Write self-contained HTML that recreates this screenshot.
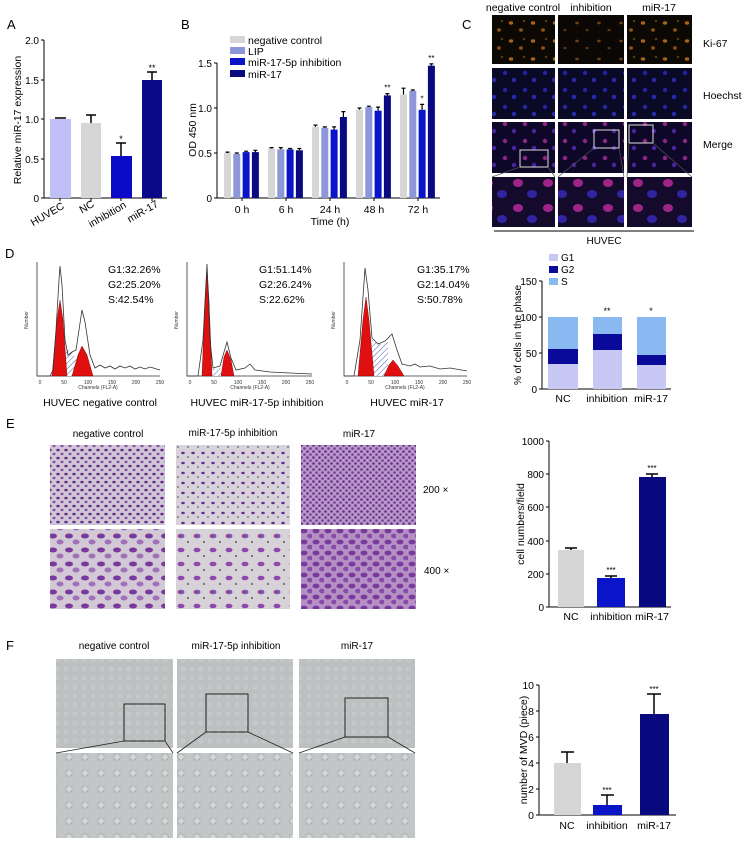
<!DOCTYPE html>
<html><head><meta charset="utf-8"><style>
html,body{margin:0;padding:0;background:#fff}
svg{display:block;font-family:"Liberation Sans",Arial,sans-serif}
</style></head><body>
<svg width="748" height="843" viewBox="0 0 748 843" xmlns="http://www.w3.org/2000/svg">
<defs>
<pattern id="ki" width="22" height="18" patternUnits="userSpaceOnUse"><rect width="22" height="18" fill="#0c0804"/><ellipse cx="5" cy="5" rx="2.2" ry="1.7" fill="#a8641a"/><ellipse cx="15" cy="12" rx="2" ry="1.7" fill="#8a5014"/><ellipse cx="18" cy="3" rx="1.3" ry="1.1" fill="#5a3a10"/></pattern>
<pattern id="ki2" width="22" height="18" patternUnits="userSpaceOnUse"><rect width="22" height="18" fill="#0a0704"/><ellipse cx="5" cy="5" rx="1.8" ry="1.4" fill="#6a4010"/><ellipse cx="15" cy="12" rx="1.6" ry="1.3" fill="#5a3610"/></pattern>
<pattern id="ho" width="20" height="17" patternUnits="userSpaceOnUse"><rect width="20" height="17" fill="#0a0a26"/><circle cx="5" cy="5" r="2.2" fill="#2424a0"/><circle cx="14" cy="12" r="2.2" fill="#2a2ab0"/></pattern>
<pattern id="me" width="20" height="17" patternUnits="userSpaceOnUse"><rect width="20" height="17" fill="#0e0828"/><circle cx="5" cy="5" r="2.2" fill="#902484"/><circle cx="14" cy="12" r="2.2" fill="#4a24a0"/></pattern>
<pattern id="mz" width="30" height="25" patternUnits="userSpaceOnUse"><rect width="30" height="25" fill="#140a2c"/><ellipse cx="8" cy="8" rx="5" ry="4" fill="#a02488"/><ellipse cx="22" cy="19" rx="5" ry="4" fill="#3024a0"/></pattern>
<pattern id="e1" width="8" height="8" patternUnits="userSpaceOnUse"><rect width="8" height="8" fill="#cfc6d6"/><ellipse cx="2" cy="2" rx="1.8" ry="1.3" fill="#6a2c8c"/><ellipse cx="6" cy="6" rx="1.6" ry="1.2" fill="#8a50a8"/></pattern>
<pattern id="e2" width="6" height="6" patternUnits="userSpaceOnUse"><rect width="6" height="6" fill="#b89ac8"/><circle cx="1.5" cy="1.5" r="1.3" fill="#6a2c8c"/><circle cx="4.5" cy="4.5" r="1.3" fill="#7a3a9a"/></pattern>
<pattern id="e3" width="10" height="10" patternUnits="userSpaceOnUse"><rect width="10" height="10" fill="#d8d2da"/><ellipse cx="3" cy="3" rx="1.8" ry="1.2" fill="#6a2c8c"/><circle cx="8" cy="7" r="0.8" fill="#444"/></pattern>
<pattern id="e4" width="16" height="14" patternUnits="userSpaceOnUse"><rect width="16" height="14" fill="#d2c8d6"/><ellipse cx="5" cy="4" rx="4" ry="2.5" fill="#7a3a9c"/><ellipse cx="12" cy="10" rx="3.5" ry="2.5" fill="#a070b8"/></pattern>
<pattern id="e5" width="16" height="14" patternUnits="userSpaceOnUse"><rect width="16" height="14" fill="#d6d2d8"/><ellipse cx="5" cy="4" rx="3.5" ry="2.3" fill="#8a4aa8"/><circle cx="12" cy="10" r="0.9" fill="#333"/></pattern>
<pattern id="e6" width="12" height="11" patternUnits="userSpaceOnUse"><rect width="12" height="11" fill="#b490c4"/><ellipse cx="4" cy="3" rx="3.5" ry="2.4" fill="#7a3a9c"/><ellipse cx="10" cy="8" rx="3" ry="2.3" fill="#8a4aa8"/></pattern>
<pattern id="f1" width="9" height="9" patternUnits="userSpaceOnUse"><rect width="9" height="9" fill="#bcc0c0"/><circle cx="3" cy="3" r="1.6" fill="none" stroke="#d4d8d8" stroke-width="0.6"/></pattern>
<pattern id="f2" width="16" height="16" patternUnits="userSpaceOnUse"><rect width="16" height="16" fill="#c2c6c6"/><circle cx="5" cy="5" r="3.2" fill="#d4d8d8" stroke="#9aa0a0" stroke-width="0.6"/></pattern>
<pattern id="hat" width="4" height="4" patternUnits="userSpaceOnUse" patternTransform="rotate(45)"><rect width="4" height="4" fill="#fff"/><line x1="0" y1="0" x2="0" y2="4" stroke="#4a5ab0" stroke-width="1"/></pattern>
</defs>

<g font-size="13" fill="#000">
<text x="7" y="29">A</text><text x="181" y="29">B</text><text x="462" y="29">C</text>
<text x="5" y="258">D</text><text x="6" y="428">E</text><text x="6" y="650">F</text>
</g>

<!-- Panel A -->
<g font-size="10">
<line x1="44" y1="40" x2="44" y2="198" stroke="#000"/>
<line x1="44" y1="198" x2="167" y2="198" stroke="#000"/>
<g stroke="#000"><line x1="41" y1="40" x2="44" y2="40"/><line x1="41" y1="80" x2="44" y2="80"/><line x1="41" y1="119" x2="44" y2="119"/><line x1="41" y1="159" x2="44" y2="159"/><line x1="41" y1="198" x2="44" y2="198"/>
<line x1="60" y1="198" x2="60" y2="201"/><line x1="91" y1="198" x2="91" y2="201"/><line x1="121" y1="198" x2="121" y2="201"/><line x1="152" y1="198" x2="152" y2="201"/></g>
<g text-anchor="end"><text x="39" y="44">2.0</text><text x="39" y="84">1.5</text><text x="39" y="123">1.0</text><text x="39" y="163">0.5</text><text x="39" y="202">0</text></g>
<text transform="translate(21,120) rotate(-90)" text-anchor="middle" font-size="10.5">Relative miR-17 expression</text>
<rect x="50" y="119" width="21" height="79" fill="#c0c0f6"/><line x1="55" y1="118" x2="66" y2="118" stroke="#000" stroke-width="1.5"/>
<rect x="81" y="123" width="20" height="75" fill="#d6d6d6"/><path d="M91,123V115M86,115H96" stroke="#000" stroke-width="1.5"/>
<rect x="111" y="156" width="21" height="42" fill="#0a0ac8"/><path d="M121,156V143M116,143H126" stroke="#000" stroke-width="1.5"/><text x="121" y="142" text-anchor="middle" font-size="9">*</text>
<rect x="142" y="80" width="20" height="118" fill="#0a0a88"/><path d="M152,80V72M147,72H157" stroke="#000" stroke-width="1.5"/><text x="152" y="71" text-anchor="middle" font-size="9">**</text>
<g text-anchor="end" font-size="10.5"><text transform="translate(65,208) rotate(-30)">HUVEC</text><text transform="translate(95,206) rotate(-30)">NC</text><text transform="translate(127,207) rotate(-30)">inhibition</text><text transform="translate(159,206) rotate(-30)">miR-17</text></g>
</g>

<!-- Panel B -->
<g font-size="10">
<line x1="217" y1="63" x2="217" y2="198" stroke="#000"/><line x1="217" y1="198" x2="440" y2="198" stroke="#000"/>
<g stroke="#000"><line x1="214" y1="63" x2="217" y2="63"/><line x1="214" y1="108" x2="217" y2="108"/><line x1="214" y1="153" x2="217" y2="153"/><line x1="214" y1="198" x2="217" y2="198"/>
<line x1="242" y1="198" x2="242" y2="201"/><line x1="286" y1="198" x2="286" y2="201"/><line x1="330" y1="198" x2="330" y2="201"/><line x1="374" y1="198" x2="374" y2="201"/><line x1="418" y1="198" x2="418" y2="201"/></g>
<g text-anchor="end"><text x="212" y="67">1.5</text><text x="212" y="112">1.0</text><text x="212" y="157">0.5</text><text x="212" y="202">0</text></g>
<text transform="translate(196,130) rotate(-90)" text-anchor="middle" font-size="10.5">OD 450 nm</text>
<g text-anchor="middle" font-size="10.5"><text x="242" y="213">0 h</text><text x="286" y="213">6 h</text><text x="330" y="213">24 h</text><text x="374" y="213">48 h</text><text x="418" y="213">72 h</text><text x="330" y="225">Time (h)</text></g>
<rect x="230" y="36" width="15" height="7" fill="#d6d6d6"/><rect x="230" y="47" width="15" height="7" fill="#8c96d8"/><rect x="230" y="58" width="15" height="7" fill="#0a14c8"/><rect x="230" y="70" width="15" height="7" fill="#0a0a80"/>
<g font-size="10.5"><text x="248" y="44">negative control</text><text x="248" y="55">LIP</text><text x="248" y="66">miR-17-5p inhibition</text><text x="248" y="78">miR-17</text></g>
<g id="bbars"></g>
</g>

<!-- Panel C -->
<g font-size="10.5" text-anchor="middle"><text x="523" y="11">negative control</text><text x="591" y="11">inhibition</text><text x="659" y="11">miR-17</text></g>
<rect x="492" y="15" width="63" height="49" fill="url(#ki)"/><rect x="558" y="15" width="66" height="49" fill="url(#ki2)"/><rect x="627" y="15" width="65" height="49" fill="url(#ki)"/>
<rect x="492" y="68" width="63" height="51" fill="url(#ho)"/><rect x="558" y="68" width="66" height="51" fill="url(#ho)"/><rect x="627" y="68" width="65" height="51" fill="url(#ho)"/>
<rect x="492" y="122" width="63" height="51" fill="url(#me)"/><rect x="558" y="122" width="66" height="51" fill="url(#me)"/><rect x="627" y="122" width="65" height="51" fill="url(#me)"/>
<rect x="492" y="177" width="63" height="50" fill="url(#mz)"/><rect x="558" y="177" width="66" height="50" fill="url(#mz)"/><rect x="627" y="177" width="65" height="50" fill="url(#mz)"/>
<g fill="none" stroke="#ddd" stroke-width="1"><rect x="520" y="150" width="28" height="17"/><rect x="594" y="130" width="25" height="18"/><rect x="629" y="125" width="24" height="18"/></g>
<g stroke="#555" stroke-width="0.7"><line x1="492" y1="177" x2="520" y2="167"/><line x1="555" y1="177" x2="548" y2="167"/><line x1="558" y1="177" x2="594" y2="148"/><line x1="624" y1="177" x2="619" y2="148"/><line x1="627" y1="177" x2="629" y2="143"/><line x1="692" y1="177" x2="653" y2="143"/></g>
<g font-size="10.5"><text x="703" y="47">Ki-67</text><text x="703" y="99">Hoechst</text><text x="703" y="148">Merge</text></g>
<line x1="494" y1="231" x2="694" y2="231" stroke="#333" stroke-width="1.2"/>
<text x="604" y="244" font-size="10" text-anchor="middle">HUVEC</text>

<!-- Panel D histograms -->
<g stroke="#333" stroke-width="0.8" fill="none">
<path d="M37,262V376H160"/><path d="M187,262V376H312"/><path d="M344,262V376H467"/>
</g>
<path d="M62,376 L65,348 L72,352 L78,362 L76,376 Z" fill="url(#hat)"/>
<path d="M212,376 L213,369 L222,368 L221,376 Z" fill="url(#hat)"/>
<path d="M372,376 L372,340 L380,344 L388,342 L388,376 Z" fill="url(#hat)"/>
<g fill="#e01010" stroke="#600" stroke-width="0.4">
<path d="M52,376 L57,320 L60,300 L63,320 L67,376 Z"/><path d="M72,376 L78,355 L82,346 L87,355 L93,376 Z"/>
<path d="M202,376 L205,300 L207,268 L209,300 L212,376 Z"/><path d="M221,376 L224,357 L227,350 L231,360 L234,376 Z"/>
<path d="M358,376 L363,320 L366,297 L369,320 L374,376 Z"/><path d="M384,376 L389,365 L393,360 L398,366 L404,376 Z"/>
</g>
<g fill="none" stroke="#333" stroke-width="0.8">
<path d="M37,376 L50,376 L53,370 L56,330 L59,280 L60,266 L62,285 L65,340 L68,355 L72,352 L76,350 L79,330 L82,310 L85,322 L90,355 L95,368 L100,365 L105,368 L110,366 L115,369 L120,366 L125,368 L130,366 L135,369 L140,367 L145,369 L150,367 L160,370"/>
<path d="M187,376 L198,376 L203,340 L207,264 L210,340 L213,368 L220,366 L224,352 L227,342 L231,358 L236,370 L245,368 L250,364 L255,370 L270,372 L290,373 L312,374"/>
<path d="M344,376 L354,376 L360,340 L365,268 L368,290 L372,338 L378,344 L385,341 L392,334 L397,350 L402,364 L410,366 L415,364 L420,367 L430,366 L440,369 L450,368 L467,371"/>
</g>
<g font-size="5" text-anchor="middle" fill="#333"><text x="40" y="384">0</text><text x="64" y="384">50</text><text x="88" y="384">100</text><text x="112" y="384">150</text><text x="136" y="384">200</text><text x="160" y="384">250</text><text x="98" y="389">Channels (FL2-A)</text>
<text x="190" y="384">0</text><text x="214" y="384">50</text><text x="238" y="384">100</text><text x="262" y="384">150</text><text x="286" y="384">200</text><text x="310" y="384">250</text><text x="250" y="389">Channels (FL2-A)</text>
<text x="347" y="384">0</text><text x="371" y="384">50</text><text x="395" y="384">100</text><text x="419" y="384">150</text><text x="443" y="384">200</text><text x="467" y="384">250</text><text x="405" y="389">Channels (FL2-A)</text>
<text transform="translate(28,320) rotate(-90)">Number</text><text transform="translate(178,320) rotate(-90)">Number</text><text transform="translate(335,320) rotate(-90)">Number</text></g>
<g font-size="10.5"><text x="108" y="273">G1:32.26%</text><text x="108" y="288">G2:25.20%</text><text x="108" y="303">S:42.54%</text>
<text x="259" y="273">G1:51.14%</text><text x="259" y="288">G2:26.24%</text><text x="259" y="303">S:22.62%</text>
<text x="417" y="273">G1:35.17%</text><text x="417" y="288">G2:14.04%</text><text x="417" y="303">S:50.78%</text></g>
<g font-size="10.5" text-anchor="middle"><text x="100" y="406">HUVEC negative control</text><text x="257" y="406">HUVEC miR-17-5p inhibition</text><text x="407" y="406">HUVEC miR-17</text></g>

<!-- Panel D bar chart -->
<g font-size="10">
<rect x="549" y="254" width="9" height="7" fill="#c8c8f5"/><rect x="549" y="266" width="9" height="7" fill="#0a0a9a"/><rect x="549" y="278" width="9" height="7" fill="#8ab8f0"/>
<text x="561" y="261">G1</text><text x="561" y="273">G2</text><text x="561" y="285">S</text>
<line x1="542" y1="281" x2="542" y2="389" stroke="#000"/><line x1="542" y1="389" x2="671" y2="389" stroke="#000"/>
<g stroke="#000"><line x1="539" y1="281" x2="542" y2="281"/><line x1="539" y1="317" x2="542" y2="317"/><line x1="539" y1="353" x2="542" y2="353"/><line x1="539" y1="389" x2="542" y2="389"/></g>
<g text-anchor="end"><text x="537" y="285">150</text><text x="537" y="321">100</text><text x="537" y="357">50</text><text x="537" y="393">0</text></g>
<text transform="translate(521,335) rotate(-90)" text-anchor="middle" font-size="10">% of cells in the phase</text>
<rect x="548" y="317" width="30" height="72" fill="#8ab8f0"/><rect x="548" y="349" width="30" height="15" fill="#0a0a9a"/><rect x="548" y="364" width="30" height="25" fill="#c8c8f5"/>
<rect x="593" y="317" width="29" height="72" fill="#8ab8f0"/><rect x="593" y="334" width="29" height="16" fill="#0a0a9a"/><rect x="593" y="350" width="29" height="39" fill="#c8c8f5"/>
<rect x="637" y="317" width="29" height="72" fill="#8ab8f0"/><rect x="637" y="355" width="29" height="10" fill="#0a0a9a"/><rect x="637" y="365" width="29" height="24" fill="#c8c8f5"/>
<text x="607" y="314" text-anchor="middle" font-size="9">**</text><text x="651" y="314" text-anchor="middle" font-size="9">*</text>
<g text-anchor="middle" font-size="10.5"><text x="563" y="402">NC</text><text x="607" y="402">inhibition</text><text x="651" y="402">miR-17</text></g>
</g>

<!-- Panel E -->
<g font-size="10" text-anchor="middle"><text x="108" y="437">negative control</text><text x="233" y="436">miR-17-5p inhibition</text><text x="359" y="437">miR-17</text></g>
<rect x="50" y="445" width="115" height="80" fill="url(#e1)"/><rect x="176" y="445" width="114" height="80" fill="url(#e3)"/><rect x="301" y="445" width="115" height="80" fill="url(#e2)"/>
<rect x="50" y="529" width="115" height="80" fill="url(#e4)"/><rect x="176" y="529" width="114" height="80" fill="url(#e5)"/><rect x="301" y="529" width="115" height="80" fill="url(#e6)"/>
<g font-size="10"><text x="423" y="493">200 ×</text><text x="424" y="574">400 ×</text></g>
<g font-size="10">
<line x1="549" y1="441" x2="549" y2="607" stroke="#000"/><line x1="549" y1="607" x2="671" y2="607" stroke="#000"/>
<g stroke="#000"><line x1="546" y1="441" x2="549" y2="441"/><line x1="546" y1="474" x2="549" y2="474"/><line x1="546" y1="507" x2="549" y2="507"/><line x1="546" y1="541" x2="549" y2="541"/><line x1="546" y1="574" x2="549" y2="574"/><line x1="546" y1="607" x2="549" y2="607"/></g>
<g text-anchor="end"><text x="544" y="445">1000</text><text x="544" y="478">800</text><text x="544" y="511">600</text><text x="544" y="545">400</text><text x="544" y="578">200</text><text x="544" y="611">0</text></g>
<text transform="translate(524,524) rotate(-90)" text-anchor="middle" font-size="10.5">cell numbers/field</text>
<rect x="558" y="550" width="26" height="57" fill="#d6d6d6"/><path d="M571,550V548M565,548H577" stroke="#000" stroke-width="1.5"/>
<rect x="597" y="578" width="28" height="29" fill="#0a14c8"/><path d="M611,578V576M605,576H617" stroke="#000" stroke-width="1.5"/><text x="611" y="573" text-anchor="middle" font-size="8">***</text>
<rect x="639" y="477" width="27" height="130" fill="#0a0a80"/><path d="M652,477V474M646,474H658" stroke="#000" stroke-width="1.5"/><text x="652" y="471" text-anchor="middle" font-size="8">***</text>
<g text-anchor="middle" font-size="10.5"><text x="571" y="620">NC</text><text x="611" y="620">inhibition</text><text x="652" y="620">miR-17</text></g>
</g>

<!-- Panel F -->
<g font-size="10" text-anchor="middle"><text x="114" y="649">negative control</text><text x="236" y="649">miR-17-5p inhibition</text><text x="357" y="649">miR-17</text></g>
<rect x="56" y="659" width="117" height="89" fill="url(#f1)"/><rect x="177" y="659" width="116" height="89" fill="url(#f1)"/><rect x="299" y="659" width="116" height="89" fill="url(#f1)"/>
<rect x="56" y="753" width="117" height="85" fill="url(#f2)"/><rect x="177" y="753" width="116" height="85" fill="url(#f2)"/><rect x="299" y="753" width="116" height="85" fill="url(#f2)"/>
<g fill="none" stroke="#222" stroke-width="1"><rect x="124" y="704" width="41" height="37"/><rect x="206" y="694" width="42" height="38"/><rect x="345" y="698" width="43" height="39"/></g>
<g stroke="#222" stroke-width="0.8"><line x1="56" y1="753" x2="124" y2="741"/><line x1="173" y1="753" x2="165" y2="741"/><line x1="177" y1="753" x2="206" y2="732"/><line x1="293" y1="753" x2="248" y2="732"/><line x1="299" y1="753" x2="345" y2="737"/><line x1="415" y1="753" x2="388" y2="737"/></g>
<g font-size="10.5">
<line x1="539" y1="685" x2="539" y2="815" stroke="#000"/><line x1="539" y1="815" x2="676" y2="815" stroke="#000"/>
<g stroke="#000"><line x1="536" y1="685" x2="539" y2="685"/><line x1="536" y1="711" x2="539" y2="711"/><line x1="536" y1="737" x2="539" y2="737"/><line x1="536" y1="763" x2="539" y2="763"/><line x1="536" y1="789" x2="539" y2="789"/><line x1="536" y1="815" x2="539" y2="815"/></g>
<g text-anchor="end"><text x="534" y="689">10</text><text x="534" y="715">8</text><text x="534" y="741">6</text><text x="534" y="767">4</text><text x="534" y="793">2</text><text x="534" y="819">0</text></g>
<text transform="translate(527,750) rotate(-90)" text-anchor="middle">number of MVD (piece)</text>
<rect x="554" y="763" width="27" height="52" fill="#d6d6d6"/><path d="M567,763V752M561,752H574" stroke="#000" stroke-width="1.5"/>
<rect x="593" y="805" width="29" height="10" fill="#0a14c8"/><path d="M607,805V795M601,795H614" stroke="#000" stroke-width="1.5"/><text x="607" y="793" text-anchor="middle" font-size="8">***</text>
<rect x="640" y="714" width="29" height="101" fill="#0a0a80"/><path d="M654,714V694M647,694H661" stroke="#000" stroke-width="1.5"/><text x="654" y="692" text-anchor="middle" font-size="8">***</text>
<g text-anchor="middle"><text x="567" y="829">NC</text><text x="607" y="829">inhibition</text><text x="654" y="829">miR-17</text></g>
</g>
</svg>
<script>
(function(){
var vals=[[.50,.49,.51,.51],[.55,.54,.54,.53],[.79,.78,.76,.90],[.98,1.01,.97,1.14],[1.15,1.19,.98,1.47]];
var errs=[[.01,.01,.01,.02],[.01,.02,.01,.02],[.02,.01,.03,.06],[.02,.01,.04,.02],[.07,.01,.06,.02]];
var cols=["#d6d6d6","#8c96d8","#0a14c8","#0a0a80"];
var g=document.getElementById("bbars"),s="";
for(var i=0;i<5;i++)for(var j=0;j<4;j++){
 var x=224+i*44+j*9.3,v=vals[i][j],y=198-v*90,ye=198-(v+errs[i][j])*90;
 s+='<rect x="'+x+'" y="'+y+'" width="7" height="'+(198-y)+'" fill="'+cols[j]+'"/>';
 s+='<path d="M'+(x+3.5)+','+y+'V'+ye+'M'+(x+1.5)+','+ye+'H'+(x+5.5)+'" stroke="#000" stroke-width="1.2"/>';
}
s+='<text x="'+(224+3*44+3*9.3+3.5)+'" y="'+(198-1.16*90-3)+'" text-anchor="middle" font-size="8">**</text>';
s+='<text x="'+(224+4*44+2*9.3+3.5)+'" y="'+(198-1.04*90-3)+'" text-anchor="middle" font-size="8">*</text>';
s+='<text x="'+(224+4*44+3*9.3+3.5)+'" y="'+(198-1.49*90-3)+'" text-anchor="middle" font-size="8">**</text>';
g.innerHTML=s;
})();
</script>
</body></html>
